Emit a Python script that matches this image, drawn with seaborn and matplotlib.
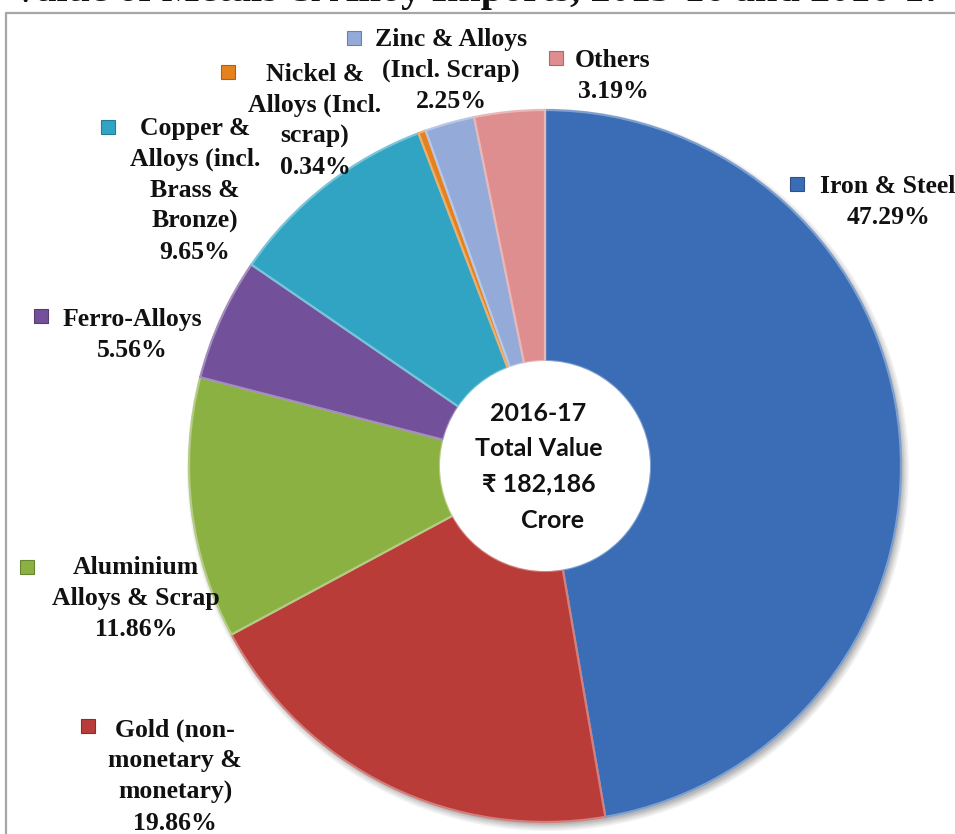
import matplotlib
matplotlib.use("Agg")
import matplotlib.pyplot as plt
import matplotlib.colors as mcolors
from matplotlib.patches import Circle
import seaborn as sns

# ---------------- data ----------------
categories = ["Iron & Steel", "Gold (non-monetary & monetary)", "Aluminium Alloys & Scrap",
              "Ferro-Alloys", "Copper & Alloys (incl. Brass & Bronze)",
              "Nickel & Alloys (Incl. scrap)", "Zinc & Alloys (Incl. Scrap)", "Others"]
shares = [47.29, 19.86, 11.86, 5.56, 9.65, 0.34, 2.25, 3.19]
label_lines = [["Iron & Steel"],
               ["Gold (non-", "monetary &", "monetary)"],
               ["Aluminium", "Alloys & Scrap"],
               ["Ferro-Alloys"],
               ["Copper &", "Alloys (incl.", "Brass &", "Bronze)"],
               ["Nickel &", "Alloys (Incl.", "scrap)"],
               ["Zinc & Alloys", "(Incl. Scrap)"],
               ["Others"]]
slice_colors = ["#3A6DB5", "#BA3C38", "#8CB143", "#72519A",
                "#31A4C4", "#E5821E", "#94ABD9", "#DE8E8E"]
center_lines = ["2016-17", "Total Value", "\u20b9 182,186", "Crore"]
title_text = "Value of Metals & Alloy Imports, 2015-16 and 2016-17"

# ---------------- layout (pixel units) ----------------
W, H = 955, 834
def Y(y):
    return H - y

CX, CY, R_OUT, R_IN = 545, 466, 356, 105
# label block: (x centre, first line y, marker x, marker y)
label_pos = [(888, 186, 797, 184),
             (175, 730, 88, 726),
             (136, 567, 27, 567),
             (132, 319, 41, 316),
             (195, 128, 108, 127),
             (315, 74, 228, 72),
             (451, 39, 354, 38),
             (613, 60, 556, 58)]
LINE_GAP = 31

sns.set_theme(style="white")
plt.rcParams["font.family"] = ["Liberation Serif", "DejaVu Serif"]

fig = plt.figure(figsize=(W / 100, H / 100), dpi=100)
ax = fig.add_axes([0, 0, 1, 1])
ax.set_facecolor("white")

def lighten(c, amt):
    r, g, b = mcolors.to_rgb(c)
    return (r + (1 - r) * amt, g + (1 - g) * amt, b + (1 - b) * amt)

def darken(c, amt):
    r, g, b = mcolors.to_rgb(c)
    return (r * (1 - amt), g * (1 - amt), b * (1 - amt))

# soft shadow under the ring
for i, a in enumerate([0.05, 0.05, 0.06, 0.07, 0.08]):
    ax.add_patch(Circle((CX + 3, Y(CY) - 4), R_OUT + 5 - i * 1.6,
                        facecolor="black", edgecolor="none", alpha=a, zorder=1))
ax.add_patch(Circle((CX + 2, Y(CY) - 2), R_IN - 2, facecolor="white",
                    edgecolor="none", zorder=1.5))

wedges, _ = ax.pie(shares, colors=slice_colors, startangle=90, counterclock=False,
                   center=(CX, Y(CY)), radius=R_OUT,
                   wedgeprops=dict(width=R_OUT - R_IN, linewidth=0))
for w, c in zip(wedges, slice_colors):
    w.set_zorder(2)
    w.set_edgecolor(lighten(c, 0.35))
    w.set_linewidth(1.6)

# inner hole
ax.add_patch(Circle((CX, Y(CY)), R_IN, facecolor="white", edgecolor="none", zorder=3))

ax.set_xlim(0, W)
ax.set_ylim(0, H)
ax.set_aspect("auto")
ax.axis("off")

# labels
for lines, pct, (lx, ly, mx, my), c in zip(label_lines, shares, label_pos, slice_colors):
    all_lines = lines + [f"{pct:.2f}%"]
    for k, t in enumerate(all_lines):
        ax.text(lx, Y(ly + k * LINE_GAP), t, ha="center", va="center",
                fontsize=18.5, fontweight="bold", color="#111111",
                family=["Liberation Serif", "DejaVu Serif"], zorder=5)
    ax.plot([mx], [Y(my)], marker="s", markersize=9.5, color=c,
            markeredgecolor=darken(c, 0.25), markeredgewidth=0.8, zorder=5)

# centre text
center_pos = [(538, 413), (539, 448), (539, 484), (552, 520)]
for t, (tx, ty) in zip(center_lines, center_pos):
    ax.text(tx, Y(ty), t, ha="center", va="center", fontsize=18,
            fontweight="bold", color="#111111", family=["Lato", "DejaVu Sans"], zorder=6)

# clipped title at top
ax.text(W / 2, Y(1), title_text, ha="center", va="baseline", fontsize=29,
        fontweight="bold", color="#111111", family=["Liberation Serif", "DejaVu Serif"],
        zorder=6)

# frame
ax.plot([6, 6], [Y(13), Y(H + 5)], color="#A6A6A6", lw=1.6, clip_on=False, zorder=4)
ax.plot([6, W + 5], [Y(13), Y(13)], color="#A6A6A6", lw=1.6, clip_on=False, zorder=4)

fig.savefig("out.png", dpi=100, facecolor="white")
